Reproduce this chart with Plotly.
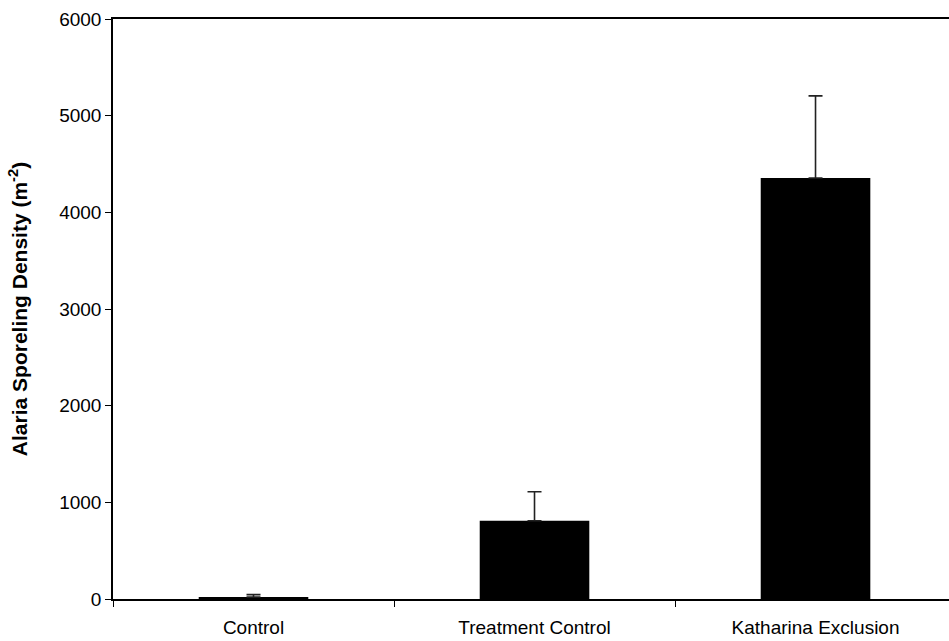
import plotly.graph_objects as go

categories = ["Control", "Treatment Control", "Katharina Exclusion"]
means = [20, 810, 4355]
errors_up = [25, 300, 850]
y_ticks = [0, 1000, 2000, 3000, 4000, 5000, 6000]

fig = go.Figure()
fig.add_trace(go.Bar(
    x=categories,
    y=means,
    width=0.39,
    marker=dict(color="black", line=dict(color="black", width=0)),
    error_y=dict(type="data", symmetric=False, array=errors_up,
                 arrayminus=[0] * len(errors_up),
                 color="#222222", thickness=1.6, width=7),
))

fig.update_layout(
    width=949, height=641,
    margin=dict(l=113, r=0, t=19, b=42),
    paper_bgcolor="white", plot_bgcolor="white",
    showlegend=False,
    font=dict(family="Liberation Sans, Arial, sans-serif", size=19, color="black"),
    xaxis=dict(
        type="category",
        range=[-0.5, 2.475],
        showline=True, linecolor="black", linewidth=1.5,
        mirror=True,
        ticks="outside", ticklen=6, tickcolor="black", tickwidth=1,
        tickson="boundaries",
        ticklabelstandoff=10,
        showgrid=False, zeroline=False,
        tickfont=dict(size=19),
    ),
    yaxis=dict(
        range=[0, 6000],
        tickvals=y_ticks,
        showline=True, linecolor="black", linewidth=1.5,
        ticks="outside", ticklen=6, tickcolor="black", tickwidth=1,
        showgrid=False, zeroline=False,
        tickfont=dict(size=19),
        title=dict(text="<b>Alaria Sporeling Density (m<sup>-2</sup>)</b>",
                   font=dict(size=21), standoff=26),
    ),
)

fig.write_html("out.html")
